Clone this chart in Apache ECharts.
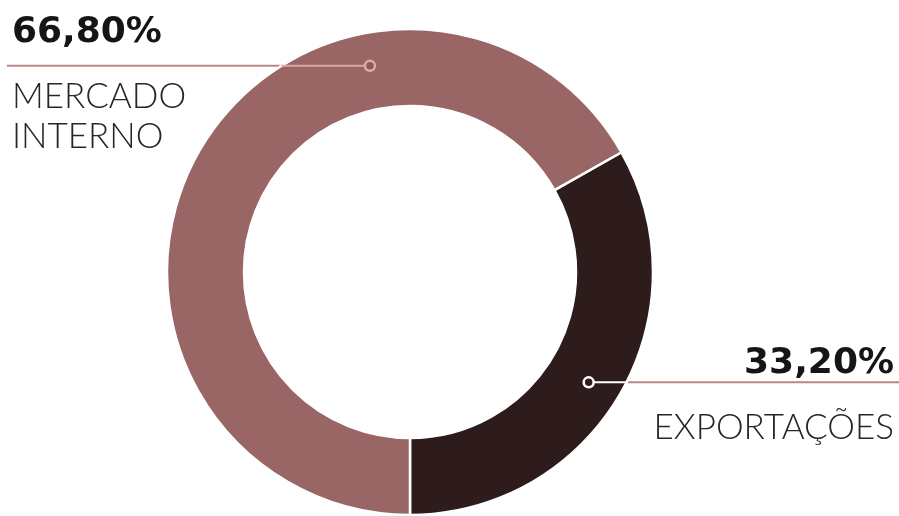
<!DOCTYPE html>
<html>
<head>
<meta charset="utf-8">
<script src="https://cdn.jsdelivr.net/npm/echarts@6/dist/echarts.min.js"></script>
<style>
    html, body { margin: 0; padding: 0; background: #fff; }
    #chart { width: 899px; height: 516px; }
</style>
</head>
<body>
<div id="chart"></div>
<script>
var names = ["EXPORTAÇÕES", "MERCADO\nINTERNO"];
var values = [33.2, 66.8];
var valueLabels = ["33,20%", "66,80%"];
var colors = ["#2e1c1c", "#9a6565"];

var cx = 410, cy = 272, rIn = 166, rOut = 243, rMark = 210;

(function() {
    var myChart = echarts.init(document.getElementById("chart"));

    // angle (degrees) of the marker dot on each slice
    var markAngles = [-31.7, 101];

    function markPos(i) {
        var a = markAngles[i] * Math.PI / 180;
        return [cx + rMark * Math.cos(a), cy - rMark * Math.sin(a)];
    }

    // where a horizontal line from the marker leaves the outer ring
    function edgeX(i, dir) {
        var p = markPos(i),
        dy = p[1] - cy;
        return cx + dir * Math.sqrt(rOut * rOut - dy * dy)
    }

    var m0 = markPos(0), m1 = markPos(1);

    var option = {
        animation: false,
        series: [{
            type: "pie",
            center: [cx, cy],
            radius: [rIn, rOut],
            startAngle: -90,
            clockwise: false,
            silent: true,
            itemStyle: {
                borderColor: "#fff",
                borderWidth: 2.5
            },
            label: {
                show: true,
                overflow: "none",
                formatter: function(p) {
                    var lines = names[p.dataIndex].split("\n");
                    return "{v|" + valueLabels[p.dataIndex] + "}\n" + lines.map(function(l) {
                        return "{n|" + l + "}"
                    }).join("\n")
                },
                rich: {
                    v: {
                        fontFamily: "DejaVu Sans",
                        fontWeight: "bold",
                        fontSize: 36,
                        color: "#151515",
                        lineHeight: 89
                    },
                    n: {
                        fontFamily: "Lato",
                        fontWeight: 300,
                        fontSize: 35,
                        color: "#262626",
                        lineHeight: 40
                    }
                }
            },
            labelLine: {
                show: true,
                lineStyle: {
                    color: "#b98585",
                    width: 2
                }
            },
            labelLayout: function(params) {
                if (params.dataIndex === 1) {
                    return {
                        x: 12,
                        y: -12,
                        width: 400,
                        align: "left",
                        verticalAlign: "top",
                        labelLinePoints: [m1, m1, [7, m1[1]]]
                    }
                }
                return {
                    x: 894,
                    y: 319,
                    width: 400,
                    align: "right",
                    verticalAlign: "top",
                    labelLinePoints: [m0, m0, [899, m0[1]]]
                }
            },
            data: values.map(function(v, i) {
                return {
                    value: v,
                    name: names[i],
                    itemStyle: { color: colors[i] }
                }
            })
        }],
        graphic: [{
            type: "line",
            shape: { x1: m0[0], y1: m0[1], x2: edgeX(0, 1), y2: m0[1] },
            style: { stroke: "#ffffff", lineWidth: 2 },
            z: 100
        },
        {
            type: "line",
            shape: { x1: m1[0], y1: m1[1], x2: edgeX(1, -1), y2: m1[1] },
            style: { stroke: "#dca4a4", lineWidth: 2 },
            z: 100
        },
        {
            type: "circle",
            shape: { cx: m0[0], cy: m0[1], r: 5 },
            style: { fill: "#2e1c1c", stroke: "#ffffff", lineWidth: 2.5 },
            z: 101
        },
        {
            type: "circle",
            shape: { cx: m1[0], cy: m1[1], r: 5 },
            style: { fill: "#8f5a5a", stroke: "#e0aaaa", lineWidth: 2.5 },
            z: 101
        }]
    };

    myChart.setOption(option);
})();
</script>
</body>
</html>
